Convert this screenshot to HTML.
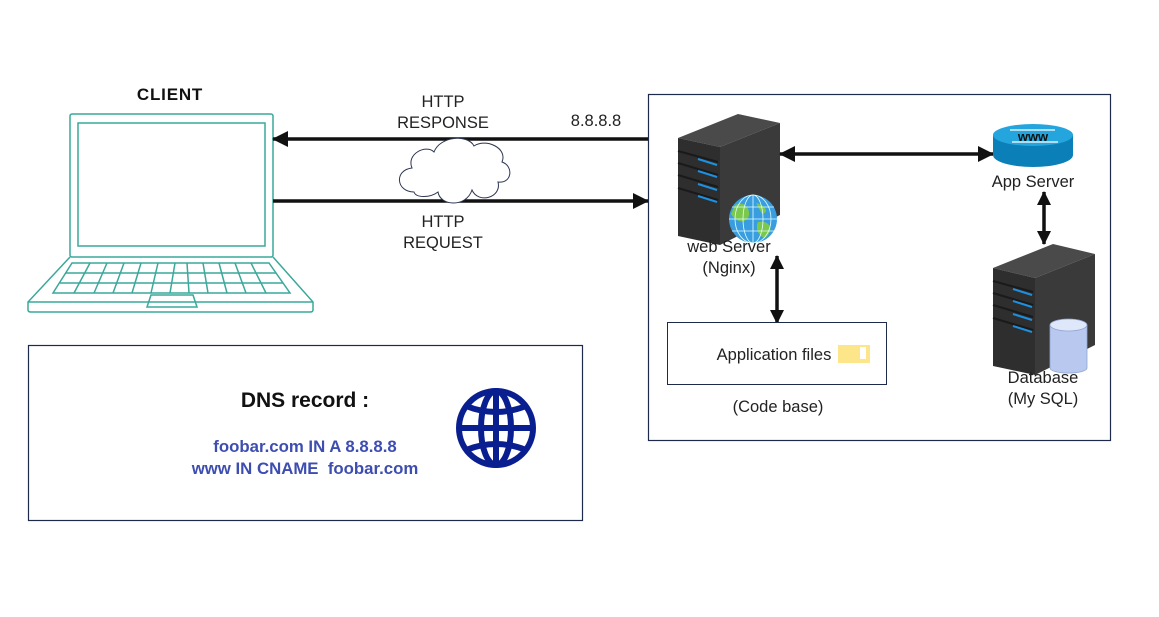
<!DOCTYPE html>
<html><head><meta charset="utf-8"><style>
html,body{margin:0;padding:0;background:#fff;}
svg{display:block;font-family:"Liberation Sans",sans-serif;}
</style></head><body>
<svg width="1159" height="617" viewBox="0 0 1159 617" xmlns="http://www.w3.org/2000/svg">
<defs>
<marker id="ah" markerWidth="14" markerHeight="14" refX="13" refY="7" orient="auto-start-reverse" markerUnits="userSpaceOnUse">
<path d="M0,0 L14,7 L0,14 z" fill="#111"/></marker>
<marker id="ab" markerWidth="16" markerHeight="16" refX="15" refY="8" orient="auto-start-reverse" markerUnits="userSpaceOnUse">
<path d="M0,0 L16,8 L0,16 z" fill="#111"/></marker>
</defs>
<rect width="1159" height="617" fill="#fff"/>

<!-- CLIENT -->
<text x="170" y="100" font-size="17" font-weight="bold" text-anchor="middle" fill="#111" letter-spacing="0.8">CLIENT</text>
<g fill="none" stroke="#3aa89a" stroke-width="1.5">
<rect x="70" y="114" width="203" height="143" rx="2"/>
<rect x="78" y="123" width="187" height="123"/>
<path d="M70,257 L28,302 L28,310 Q28,312 31,312 L310,312 Q313,312 313,310 L313,302 L273,257"/>
<path d="M28,302 L313,302"/>
<path d="M72,263 L269,263 L290,293 L53,293 Z"/>
<path d="M66,273 L276,273 M60,283 L283,283"/>
<path d="M90,263 L74,293 M107,263 L94,293 M124,263 L113,293 M141,263 L132,293 M158,263 L151,293 M175,263 L170,293 M187,263 L189,293 M203,263 L208,293 M219,263 L227,293 M235,263 L246,293 M251,263 L266,293"/>
<path d="M151,295 L193,295 L197,307 L147,307 Z"/>
</g>

<!-- arrows -->
<line x1="648" y1="139" x2="273" y2="139" stroke="#111" stroke-width="3.5" marker-end="url(#ab)"/>
<line x1="273" y1="201" x2="648" y2="201" stroke="#111" stroke-width="3.5" marker-end="url(#ab)"/>

<!-- cloud -->
<path d="M414,192 C396,192 394,170 412,168 C406,154 426,144 434,152 C440,136 468,134 474,146 C486,138 508,148 502,162 C514,166 512,184 498,182 C502,198 478,204 472,190 C466,208 440,206 438,192 C430,198 416,198 414,192 Z" fill="#fff" stroke="#2b3550" stroke-width="1"/>

<g font-size="16.5" fill="#222" text-anchor="middle">
<text x="443" y="107">HTTP</text>
<text x="443" y="128">RESPONSE</text>
<text x="596" y="126">8.8.8.8</text>
<text x="443" y="227">HTTP</text>
<text x="443" y="248">REQUEST</text>
</g>

<!-- server box -->
<rect x="648.5" y="94.5" width="462" height="346" fill="none" stroke="#1e2a4a" stroke-width="1.2"/>

<!-- web server -->
<g>
<polygon points="678,138 738,114 780,123 720,147" fill="#4a4a4a"/>
<polygon points="720,147 780,123 780,215 720,245" fill="#3a3a3a"/>
<polygon points="678,138 720,147 720,245 678,236" fill="#2e2e2e"/>
<g stroke="#1a1a1a" stroke-width="2"><line x1="678" y1="151" x2="718" y2="162"/><line x1="678" y1="163" x2="718" y2="175"/><line x1="678" y1="175" x2="718" y2="187"/><line x1="678" y1="188" x2="718" y2="200"/></g>
<g stroke="#1e90e0" stroke-width="2"><line x1="698" y1="159" x2="717" y2="165"/><line x1="698" y1="171" x2="717" y2="177"/><line x1="698" y1="184" x2="717" y2="190"/><line x1="698" y1="196" x2="717" y2="202"/></g>
<circle cx="753" cy="219" r="24" fill="#3a9de0"/>
<path d="M735,205 C745,200 752,210 748,218 C742,225 735,220 731,214 Z M756,203 C765,205 770,212 762,214 Z M758,222 C770,220 775,230 765,238 C758,236 755,228 758,222 Z" fill="#7cc84a"/>
<g fill="none" stroke="#dff" stroke-width="0.8"><ellipse cx="753" cy="219" rx="10" ry="24"/><ellipse cx="753" cy="219" rx="18" ry="24"/><line x1="729" y1="219" x2="777" y2="219"/><line x1="732" y1="207" x2="774" y2="207"/><line x1="732" y1="231" x2="774" y2="231"/><line x1="753" y1="195" x2="753" y2="243"/></g>
</g>
<g font-size="16.5" fill="#222" text-anchor="middle">
<text x="729" y="252">web Server</text>
<text x="729" y="273">(Nginx)</text>
</g>

<!-- web <-> app -->
<line x1="780" y1="154" x2="993" y2="154" stroke="#111" stroke-width="3.5" marker-start="url(#ab)" marker-end="url(#ab)"/>

<!-- app server router -->
<g>
<path d="M993,135 L993,155 A40,12 0 0 0 1073,155 L1073,135 Z" fill="#0a7fb8"/>
<ellipse cx="1033" cy="135" rx="40" ry="11" fill="#25a5dd"/>
<text x="1033" y="141" font-size="13" font-weight="bold" text-anchor="middle" fill="#111">www</text>
<line x1="1010" y1="130" x2="1055" y2="130" stroke="#fff" stroke-width="1.2"/>
<line x1="1012" y1="142" x2="1058" y2="142" stroke="#fff" stroke-width="1.2"/>
</g>
<text x="1033" y="187" font-size="16.5" text-anchor="middle" fill="#222">App Server</text>

<line x1="1044" y1="192" x2="1044" y2="244" stroke="#111" stroke-width="3.5" marker-start="url(#ah)" marker-end="url(#ah)"/>

<!-- db server -->
<g>
<polygon points="993,268 1053,244 1095,254 1035,278" fill="#4a4a4a"/>
<polygon points="1035,278 1095,254 1095,345 1035,375" fill="#3a3a3a"/>
<polygon points="993,268 1035,278 1035,375 993,366" fill="#2e2e2e"/>
<g stroke="#1a1a1a" stroke-width="2"><line x1="993" y1="281" x2="1033" y2="292"/><line x1="993" y1="293" x2="1033" y2="305"/><line x1="993" y1="305" x2="1033" y2="317"/><line x1="993" y1="318" x2="1033" y2="330"/></g>
<g stroke="#1e90e0" stroke-width="2"><line x1="1013" y1="289" x2="1032" y2="295"/><line x1="1013" y1="301" x2="1032" y2="307"/><line x1="1013" y1="314" x2="1032" y2="320"/><line x1="1013" y1="326" x2="1032" y2="332"/></g>
<path d="M1050,325 L1050,368 A18,5 0 0 0 1087,368 L1087,325 Z" fill="#b8c8ee" stroke="#90a4d0" stroke-width="0.8"/>
<ellipse cx="1068.5" cy="325" rx="18.5" ry="6" fill="#dfe7fa" stroke="#90a4d0" stroke-width="0.8"/>
</g>
<g font-size="16.5" fill="#222" text-anchor="middle">
<text x="1043" y="383">Database</text>
<text x="1043" y="404">(My SQL)</text>
</g>

<!-- web <-> files -->
<line x1="777" y1="256" x2="777" y2="323" stroke="#111" stroke-width="3.5" marker-start="url(#ah)" marker-end="url(#ah)"/>

<rect x="667.5" y="322.5" width="219" height="62" fill="#fff" stroke="#1e2a4a" stroke-width="1"/>
<text x="774" y="360" font-size="16.5" text-anchor="middle" fill="#222">Application files</text>
<rect x="838" y="345" width="32" height="18" fill="#fde68a"/>
<rect x="860" y="347" width="6" height="12" fill="#fff"/>
<text x="778" y="412" font-size="16.5" text-anchor="middle" fill="#222">(Code base)</text>

<!-- DNS box -->
<rect x="28.5" y="345.5" width="554" height="175" fill="none" stroke="#1e2a4a" stroke-width="1.2"/>
<text x="305" y="407" font-size="21" font-weight="bold" text-anchor="middle" fill="#111">DNS record :</text>
<text x="305" y="452" font-size="16.8" font-weight="bold" text-anchor="middle" fill="#3d4db0">foobar.com IN A 8.8.8.8</text>
<text x="305" y="474" font-size="16.8" font-weight="bold" text-anchor="middle" fill="#3d4db0" xml:space="preserve">www IN CNAME  foobar.com</text>
<g fill="none" stroke="#0a1f8f" stroke-width="6">
<circle cx="496" cy="428" r="37"/>
<ellipse cx="496" cy="428" rx="15" ry="37"/>
<line x1="496" y1="391" x2="496" y2="465"/>
<line x1="459" y1="428" x2="533" y2="428"/>
<path d="M466,406 Q496,418 526,406"/>
<path d="M466,450 Q496,438 526,450"/>
</g>
</svg>
</body></html>
